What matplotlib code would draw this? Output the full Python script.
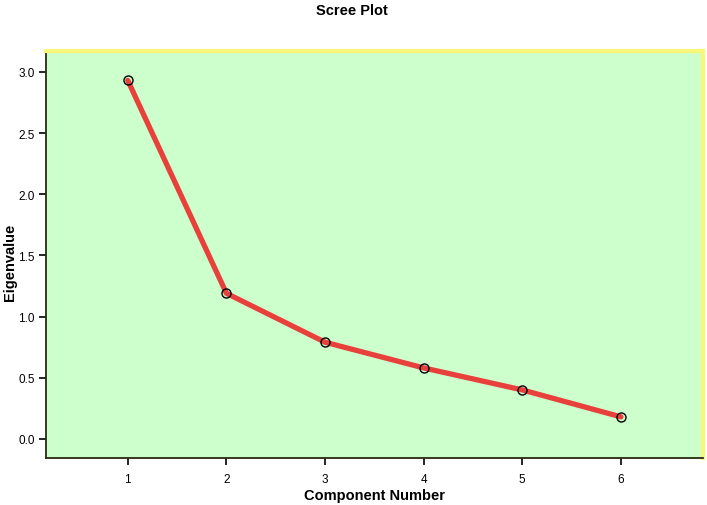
import matplotlib
matplotlib.use("Agg")
import matplotlib.pyplot as plt

plt.rcParams['font.family'] = ['Liberation Sans', 'DejaVu Sans']

components = [1, 2, 3, 4, 5, 6]
eigenvalues = [2.93, 1.19, 0.79, 0.58, 0.40, 0.18]
yticks = [0.0, 0.5, 1.0, 1.5, 2.0, 2.5, 3.0]

fig = plt.figure(figsize=(7.07, 5.06), dpi=100)
ax = fig.add_axes([0.065, 0.093, 0.929, 0.804])
ax.set_facecolor('#CCFFCC')

ax.plot(components, eigenvalues, color='#E8403A', lw=3.8, zorder=2, solid_capstyle='round')
ax.plot(components, eigenvalues, 'o', ms=6.5, mfc='none', mec='black', mew=1.0, zorder=3)

ax.set_xlim(0.17, 6.83)
ax.set_ylim(-0.156, 3.17)
ax.set_xticks(components)
ax.set_yticks(yticks)
ax.set_yticklabels([f'{v:.1f}' for v in yticks])
ax.tick_params(direction='out', length=5, width=1.2, labelsize=8.5, color='black')
ax.tick_params(axis='x', pad=6)
ax.tick_params(axis='y', pad=3)

for s in ['top', 'right']:
    ax.spines[s].set_color('#F7F77A')
    ax.spines[s].set_linewidth(3)
for s in ['left', 'bottom']:
    ax.spines[s].set_color('#2A2A10')
    ax.spines[s].set_linewidth(1.3)

# axis titles placed in figure coords to match the reference layout
fig.text(0.53, 0.019, 'Component Number', ha='center', va='center', fontsize=10.5, fontweight='bold')
fig.text(0.014, 0.482, 'Eigenvalue', ha='center', va='center', rotation=90, fontsize=10.5, fontweight='bold')
fig.text(0.498, 0.978, 'Scree Plot', ha='center', va='center', fontsize=10.5, fontweight='bold')

fig.savefig('out.png', dpi=100)
